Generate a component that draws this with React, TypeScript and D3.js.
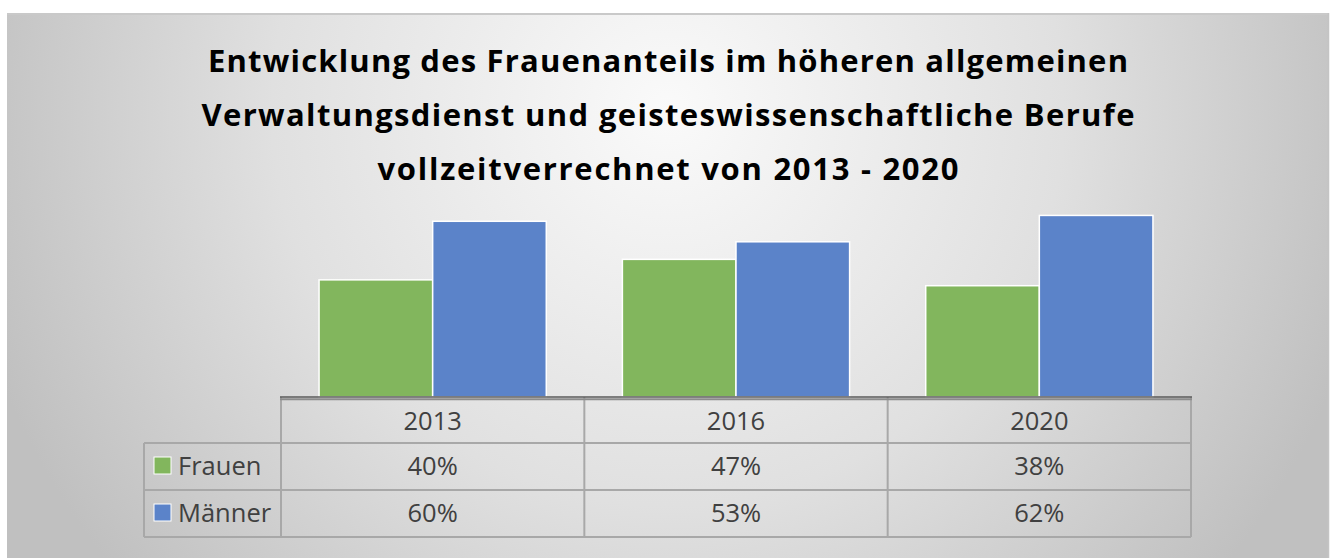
import React from "react";
import * as d3 from "d3";

const categories = ["2013", "2016", "2020"];
const seriesNames = ["Frauen", "Männer"];
const frauen = [40, 47, 38];
const maenner = [60, 53, 62];
const valueLabels = [
  ["40%", "47%", "38%"],
  ["60%", "53%", "62%"],
];
const titleLines = [
  "Entwicklung des Frauenanteils im höheren allgemeinen",
  "Verwaltungsdienst und geisteswissenschaftliche Berufe",
  "vollzeitverrechnet von 2013 - 2020",
];

const W = 1336;
const H = 558;
const colors = ["#82b65d", "#5b83c9"];

export default function App() {
  const series = [frauen, maenner];
  const plotLeft = 281;
  const plotRight = 1191;
  const baseY = 397;
  const x = d3.scaleBand<string>().domain(categories).range([plotLeft, plotRight]).padding(0);
  const xs = d3
    .scaleBand<string>()
    .domain(seriesNames)
    .range([0, x.bandwidth()])
    .paddingInner(0)
    .paddingOuter(0.335);
  const y = d3.scaleLinear().domain([0, 70]).range([baseY, 192]);

  const rowTops = [397, 443, 490, 537];
  const legendLeft = 144;
  const titleX = 668;
  const titleBaselines = [72, 126, 180];
  const titleWidths = [920, 933, 581];
  const textColor = "#404040";
  const gridColor = "#a8a8a8";

  return (
    <div style={{ position: "absolute", left: 0, top: 0 }}>
      <svg width={W} height={H} style={{ display: "block" }}>
        <defs>
          <radialGradient id="bg" gradientUnits="userSpaceOnUse" cx={668} cy={110} r={720}>
            <stop offset="0" stopColor="#fafafa" />
            <stop offset="0.55" stopColor="#e0e0e0" />
            <stop offset="1" stopColor="#c0c0c0" />
          </radialGradient>
        </defs>
        <rect x={0} y={0} width={W} height={H} fill="#ffffff" />
        <rect x={7} y={13} width={1322} height={H - 13 + 2} fill="url(#bg)" />
        <line x1={7} x2={1329} y1={14} y2={14} stroke="#c9c9c9" strokeWidth={2} />
        <line x1={1328.5} x2={1328.5} y1={13} y2={H} stroke="#c4c4c4" strokeWidth={1.5} />

        {titleLines.map((t, i) => (
          <text
            key={i}
            x={titleX}
            y={titleBaselines[i]}
            textAnchor="middle"
            fontFamily="'Open Sans', Lato, sans-serif"
            fontWeight={700}
            fontSize={31}
            fill="#000"
            textLength={titleWidths[i]}
            lengthAdjust="spacing"
          >
            {t}
          </text>
        ))}

        {categories.map((c, ci) =>
          series.map((s, si) => {
            const bx = (x(c) as number) + (xs(seriesNames[si]) as number);
            const top = y(s[ci]);
            return (
              <rect
                key={c + si}
                x={bx}
                y={top}
                width={xs.bandwidth()}
                height={baseY - top}
                fill={colors[si]}
                stroke="#ffffff"
                strokeWidth={1.5}
              />
            );
          })
        )}

        {/* table grid */}
        <g stroke={gridColor} strokeWidth={2} fill="none">
          <line x1={legendLeft} x2={plotRight} y1={rowTops[1]} y2={rowTops[1]} />
          <line x1={legendLeft} x2={plotRight} y1={rowTops[2]} y2={rowTops[2]} />
          <line x1={legendLeft} x2={plotRight} y1={rowTops[3]} y2={rowTops[3]} />
          <line x1={legendLeft} x2={legendLeft} y1={rowTops[1]} y2={rowTops[3]} />
          {categories.map((c) => (
            <line key={c} x1={x(c) as number} x2={x(c) as number} y1={rowTops[0]} y2={rowTops[3]} />
          ))}
          <line x1={plotRight} x2={plotRight} y1={rowTops[0]} y2={rowTops[3]} />
        </g>

        {/* axis line */}
        <line x1={plotLeft - 1} x2={plotRight + 1} y1={397} y2={397} stroke="#5a5a5a" strokeWidth={1.5} />
        <line x1={plotLeft - 1} x2={plotRight + 1} y1={399.2} y2={399.2} stroke="#8c8c8c" strokeWidth={2} />

        {/* header row */}
        {categories.map((c) => (
          <text
            key={c}
            x={(x(c) as number) + x.bandwidth() / 2}
            y={430}
            textAnchor="middle"
            fontFamily="'Open Sans', sans-serif"
            fontSize={25.5}
            fill={textColor}
          >
            {c}
          </text>
        ))}

        {/* data rows */}
        {seriesNames.map((name, si) => {
          const rowTop = rowTops[si + 1];
          return (
            <g key={name}>
              <rect
                x={154}
                y={rowTop + 14}
                width={17}
                height={17}
                fill={colors[si]}
                stroke="#ffffff"
                strokeWidth={1}
              />
              <text
                x={178}
                y={rowTop + 32}
                fontFamily="'Open Sans', sans-serif"
                fontSize={25.5}
                fill={textColor}
              >
                {name}
              </text>
              {categories.map((c, ci) => (
                <text
                  key={c}
                  x={(x(c) as number) + x.bandwidth() / 2}
                  y={rowTop + 32}
                  textAnchor="middle"
                  fontFamily="'Open Sans', sans-serif"
                  fontSize={25.5}
                  fill={textColor}
                >
                  {valueLabels[si][ci]}
                </text>
              ))}
            </g>
          );
        })}
      </svg>
    </div>
  );
}
